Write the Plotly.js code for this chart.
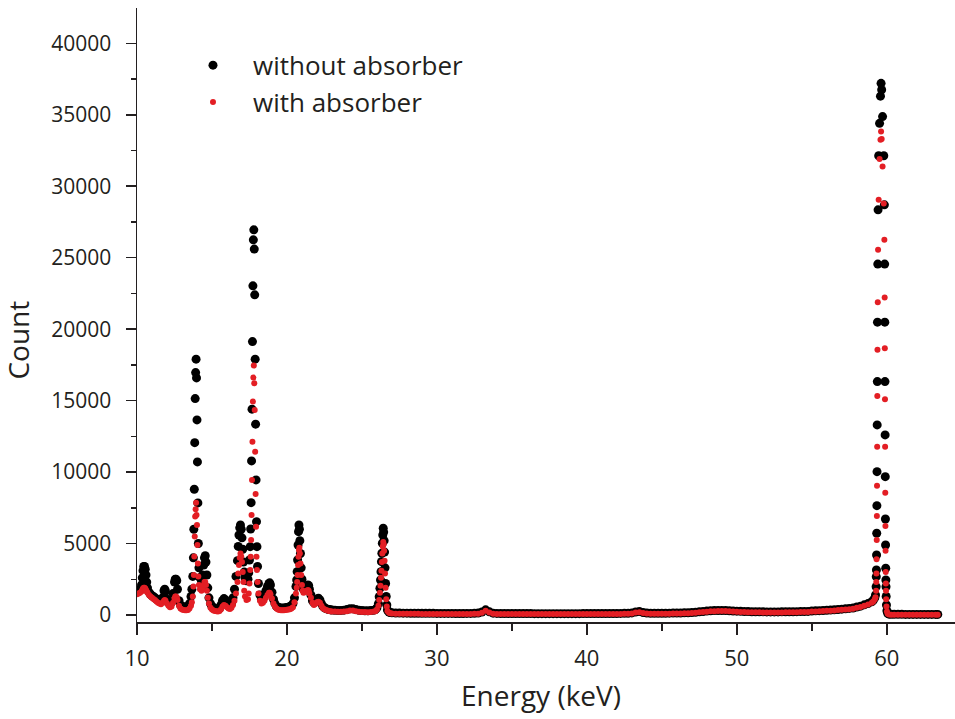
<!DOCTYPE html>
<html><head><meta charset="utf-8">
<script src="https://cdn.plot.ly/plotly-3.0.1.min.js"></script>
<style>html,body{margin:0;padding:0;background:#fff}#chart{width:955px;height:719px}</style>
</head><body><div id="chart"></div>
<script>
// Low-energy region (keV) and counts
const lowEnergy = [10.0,10.1,10.2,10.3,10.35,10.4,10.45,10.5,10.55,10.6,10.65,10.7,10.8,10.9,11.0,11.1,11.2,11.3,11.4,11.5,11.6,11.7,11.8,11.85,11.9,12.0,12.1,12.2,12.3,12.4,12.5,12.55,12.6,12.65,12.7,12.8,12.9,13.0,13.1,13.2,13.3,13.4,13.5,13.6,13.66,13.72,13.76,13.79,13.82,13.85,13.88,13.91,13.94,13.97,14.0,14.03,14.06,14.09,14.13,14.2,14.3,14.38,14.45,14.5,14.55,14.6,14.66,14.72,14.8,14.9,15.0,15.1,15.2,15.3,15.4,15.5,15.6,15.7,15.8,15.9,16.0,16.1,16.2,16.3,16.4,16.5,16.6,16.7,16.75,16.8,16.85,16.9,16.95,17.0,17.05,17.1,17.15,17.2,17.3,17.4,17.45,17.5,17.55,17.58,17.61,17.64,17.67,17.7,17.73,17.76,17.79,17.82,17.85,17.88,17.91,17.94,17.97,18.0,18.04,18.1,18.2,18.3,18.4,18.5,18.6,18.7,18.8,18.85,18.9,19.0,19.1,19.2,19.3,19.4,19.5,19.6,19.7,19.8,19.9,20.0,20.1,20.2,20.3,20.4,20.5,20.6,20.65,20.68,20.71,20.74,20.77,20.8,20.83,20.86,20.9,20.95,21.0,21.05,21.1,21.2,21.3,21.4,21.45,21.5,21.6,21.7,21.8,21.9,22.0,22.1,22.2,22.3,22.4,22.5,22.6,22.7,22.8,22.9,23.0,23.2,23.4,23.6,23.8,24.0,24.2,24.4,24.6,24.8,25.0,25.2,25.4,25.6,25.8,25.9,26.0,26.1,26.15,26.2,26.24,26.27,26.3,26.33,26.36,26.39,26.42,26.45,26.48,26.51,26.54,26.58,26.62,26.66,26.7,26.8,26.9,27.0];
const lowWithout = [1650,1700,1800,2100,2600,3100,3400,3400,3200,2800,2300,1900,1600,1450,1350,1280,1200,1120,1050,1000,950,1200,1700,1800,1650,1100,850,750,900,1500,2300,2500,2500,2400,1800,1000,700,600,570,550,560,600,800,1300,1800,2700,4000,6000,8800,12060,15140,16960,17900,16590,13650,10710,7840,5000,3300,2600,2400,2800,3500,4000,4150,3700,2800,1900,1200,800,600,500,450,420,400,450,700,1000,1150,1050,850,700,650,800,1200,1800,2700,3800,4800,5600,6100,6300,6000,5400,4600,3700,3000,2600,2400,2500,2950,3850,4780,6020,7860,10780,14400,19130,23030,26250,26950,25600,22400,17900,13350,9450,6530,4780,3400,2200,1400,1100,1200,1400,1700,2000,2200,2250,2100,1600,1100,800,600,540,500,490,480,490,500,520,550,600,650,800,1200,2000,2450,3030,3850,4900,5830,6300,6000,5200,4300,3300,2500,2000,1800,1900,2050,2100,2050,1800,1400,1000,850,950,1100,1170,1050,800,600,500,450,410,380,360,350,330,320,320,340,380,440,430,380,330,310,300,300,310,340,380,500,800,1280,1870,2450,3030,3730,4320,5020,5600,6070,5800,5200,4400,3300,2200,1300,700,350,200,170,150];
const lowWith = [1450,1500,1550,1650,1750,1850,1900,1900,1850,1750,1650,1550,1400,1300,1200,1120,1050,950,850,800,750,850,1000,1050,1000,800,650,550,600,850,1150,1300,1300,1250,1050,650,450,380,350,330,330,350,450,650,900,1300,2000,2800,4100,5500,6900,7400,7850,7000,6300,4900,3600,2700,2100,1800,1700,1900,2100,2300,2300,2100,1700,1200,800,500,380,320,280,260,250,280,400,600,700,650,550,450,420,500,700,1000,1500,2300,2900,3500,4000,4300,4100,3700,3000,2300,1700,1300,1050,1100,1500,2200,3150,4080,5250,7000,9450,12130,14930,16610,17450,16210,14350,11430,8470,6180,4080,3150,2300,1500,1000,800,850,1000,1200,1400,1550,1550,1450,1150,800,600,450,390,350,340,330,340,350,360,380,410,450,550,900,1500,1900,2300,2800,3500,4080,4550,4700,4300,3600,2800,2100,1700,1550,1600,1700,1750,1700,1500,1200,850,700,780,900,930,850,650,480,400,350,310,280,265,250,240,230,220,240,270,310,310,270,230,215,210,200,210,240,270,380,650,1050,1550,2050,2600,3100,3700,4300,4800,5100,4950,4500,3800,2900,1900,1100,600,280,150,120,100];

// Mid-energy continuum
const midEnergy = [27.25,27.5,27.75,28.0,28.25,28.5,28.75,29.0,29.25,29.5,29.75,30.0,30.25,30.5,30.75,31.0,31.25,31.5,31.75,32.0,32.25,32.5,32.75,33.0,33.25,33.5,33.75,34.0,34.25,34.5,34.75,35.0,35.25,35.5,35.75,36.0,36.25,36.5,36.75,37.0,37.25,37.5,37.75,38.0,38.25,38.5,38.75,39.0,39.25,39.5,39.75,40.0,40.25,40.5,40.75,41.0,41.25,41.5,41.75,42.0,42.25,42.5,42.75,43.0,43.25,43.5,43.75,44.0,44.25,44.5,44.75,45.0,45.25,45.5,45.75,46.0,46.25,46.5,46.75,47.0,47.25,47.5,47.75,48.0,48.25,48.5,48.75,49.0,49.25,49.5,49.75,50.0,50.25,50.5,50.75,51.0,51.25,51.5,51.75,52.0,52.25,52.5,52.75,53.0,53.25,53.5,53.75,54.0,54.25,54.5,54.75,55.0,55.25,55.5,55.75,56.0,56.25,56.5,56.75,57.0,57.25,57.5,57.75,58.0,58.25,58.5,58.75,59.0];
const midWithout = [140,135,130,128,125,122,120,118,118,115,115,112,112,110,110,110,108,108,108,110,112,118,135,210,360,220,130,112,105,102,100,100,98,98,97,96,96,95,95,95,94,94,94,93,93,93,94,94,95,95,96,97,97,98,99,100,101,103,105,107,110,114,120,145,210,245,175,135,122,120,120,122,125,128,132,136,142,150,160,175,195,220,248,272,292,308,318,318,310,298,282,268,255,245,236,230,225,222,219,217,216,216,217,219,222,225,229,234,239,245,251,280,292,305,318,330,345,360,385,410,435,460,490,560,620,710,800,930];
const midWith = [90,88,85,85,82,80,80,78,78,76,75,75,74,74,73,73,72,72,72,74,76,80,95,160,290,170,95,78,72,70,70,68,68,67,67,66,66,66,65,65,65,65,64,64,64,64,65,65,65,66,66,67,67,68,69,70,71,72,74,76,78,82,88,110,170,200,140,100,90,88,88,90,92,95,98,102,108,115,125,140,160,185,210,235,255,270,280,280,272,260,245,230,218,208,200,195,190,186,183,181,180,180,181,183,185,188,192,196,201,206,212,240,252,265,278,290,305,320,345,360,385,410,440,500,560,640,730,850];

// 59.5 keV peak
const peakEnergy = [59.1,59.2,59.25,59.29,59.3,59.31,59.32,59.33,59.34,59.35,59.36,59.37,59.38,59.4,59.42,59.46,59.52,59.58,59.62,59.66,59.72,59.8,59.84,59.86,59.87,59.88,59.89,59.9,59.91,59.92,59.93,59.94,59.95,59.96,59.98,60.01,60.06,60.15,60.3];
const peakWithout = [1030,1200,1400,1980,2680,3150,4200,5720,7650,10030,13300,16330,20490,24550,28350,32130,34400,36300,37200,36750,34870,32130,28700,24550,20490,16330,12600,9680,6720,4900,3270,2450,1980,1300,700,300,120,60,45];
const peakWith = [950,1100,1250,1700,2300,2900,3900,5250,6930,9050,11780,15330,18550,21890,25550,29050,31900,33250,33830,33300,31380,28800,26250,22210,18670,15100,11780,8560,6230,4500,3000,2200,1700,1100,600,250,80,30,25];

// High-energy tail
const highEnergy = [60.5,60.75,61.0,61.25,61.5,61.75,62.0,62.25,62.5,62.75,63.0,63.25,63.4];
const highWithout = [45,44,44,43,43,42,42,42,41,41,41,40,40];
const highWith = [25,24,24,23,23,22,22,22,21,21,21,20,20];

const xTickValues = [10,20,30,40,50,60];
const yTickValues = [0,5000,10000,15000,20000,25000,30000,35000,40000];
const seriesNames = ['without absorber','with absorber'];

const energy = lowEnergy.concat(midEnergy, peakEnergy, highEnergy);
const countWithout = lowWithout.concat(midWithout, peakWithout, highWithout);
const countWith = lowWith.concat(midWith, peakWith, highWith);

const ink = '#231f20';
const fontFam = '"Open Sans", "Noto Sans", sans-serif';

const traces = [
  {x: energy, y: countWithout, name: seriesNames[0], type: 'scatter', mode: 'markers',
   marker: {color: '#000000', size: 9}},
  {x: energy, y: countWith, name: seriesNames[1], type: 'scatter', mode: 'markers',
   marker: {color: '#e31e24', size: 6}}
];

const layout = {
  width: 955, height: 719,
  margin: {l: 137, r: 0, t: 8, b: 97},
  paper_bgcolor: '#fff', plot_bgcolor: '#fff',
  font: {family: fontFam, color: ink},
  showlegend: true,
  legend: {x: 0.044, xanchor: 'left', y: 0.945, yanchor: 'top', itemwidth: 70,
    font: {size: 26, color: ink, family: fontFam}, bgcolor: 'rgba(0,0,0,0)'},
  xaxis: {range: [10, 64.55], tickvals: xTickValues, ticktext: xTickValues.map(String),
    ticks: 'outside', ticklen: 11, tickwidth: 1.5, tickcolor: ink,
    showline: true, linecolor: ink, linewidth: 1.5, showgrid: false, zeroline: false,
    tickfont: {size: 22, color: ink, family: fontFam}, ticklabelstandoff: 5,
    minor: {ticks: 'outside', ticklen: 7, tickwidth: 1.5, tickcolor: ink, dtick: 5, tick0: 10, showgrid: false}},
  yaxis: {range: [-490, 42470], tickvals: yTickValues, ticktext: yTickValues.map(String),
    ticks: 'outside', ticklen: 10, tickwidth: 1.5, tickcolor: ink,
    showline: true, linecolor: ink, linewidth: 1.5, showgrid: false, zeroline: false,
    tickfont: {size: 21, color: ink, family: fontFam}, ticklabelstandoff: 10,
    minor: {ticks: 'outside', ticklen: 5, tickwidth: 1.5, tickcolor: ink, dtick: 2500, tick0: 0, showgrid: false}},
  annotations: [
    {text: 'Energy (keV)', xref: 'paper', yref: 'paper', x: 0.494, y: -0.119,
     xanchor: 'center', yanchor: 'middle', showarrow: false, font: {size: 28, color: ink, family: fontFam}},
    {text: 'Count', xref: 'paper', yref: 'paper', x: -0.145, y: 0.459, textangle: -90,
     xanchor: 'center', yanchor: 'middle', showarrow: false, font: {size: 28, color: ink, family: fontFam}}
  ]
};

Plotly.newPlot('chart', traces, layout, {displayModeBar: false, staticPlot: true});
</script>
</body></html>
